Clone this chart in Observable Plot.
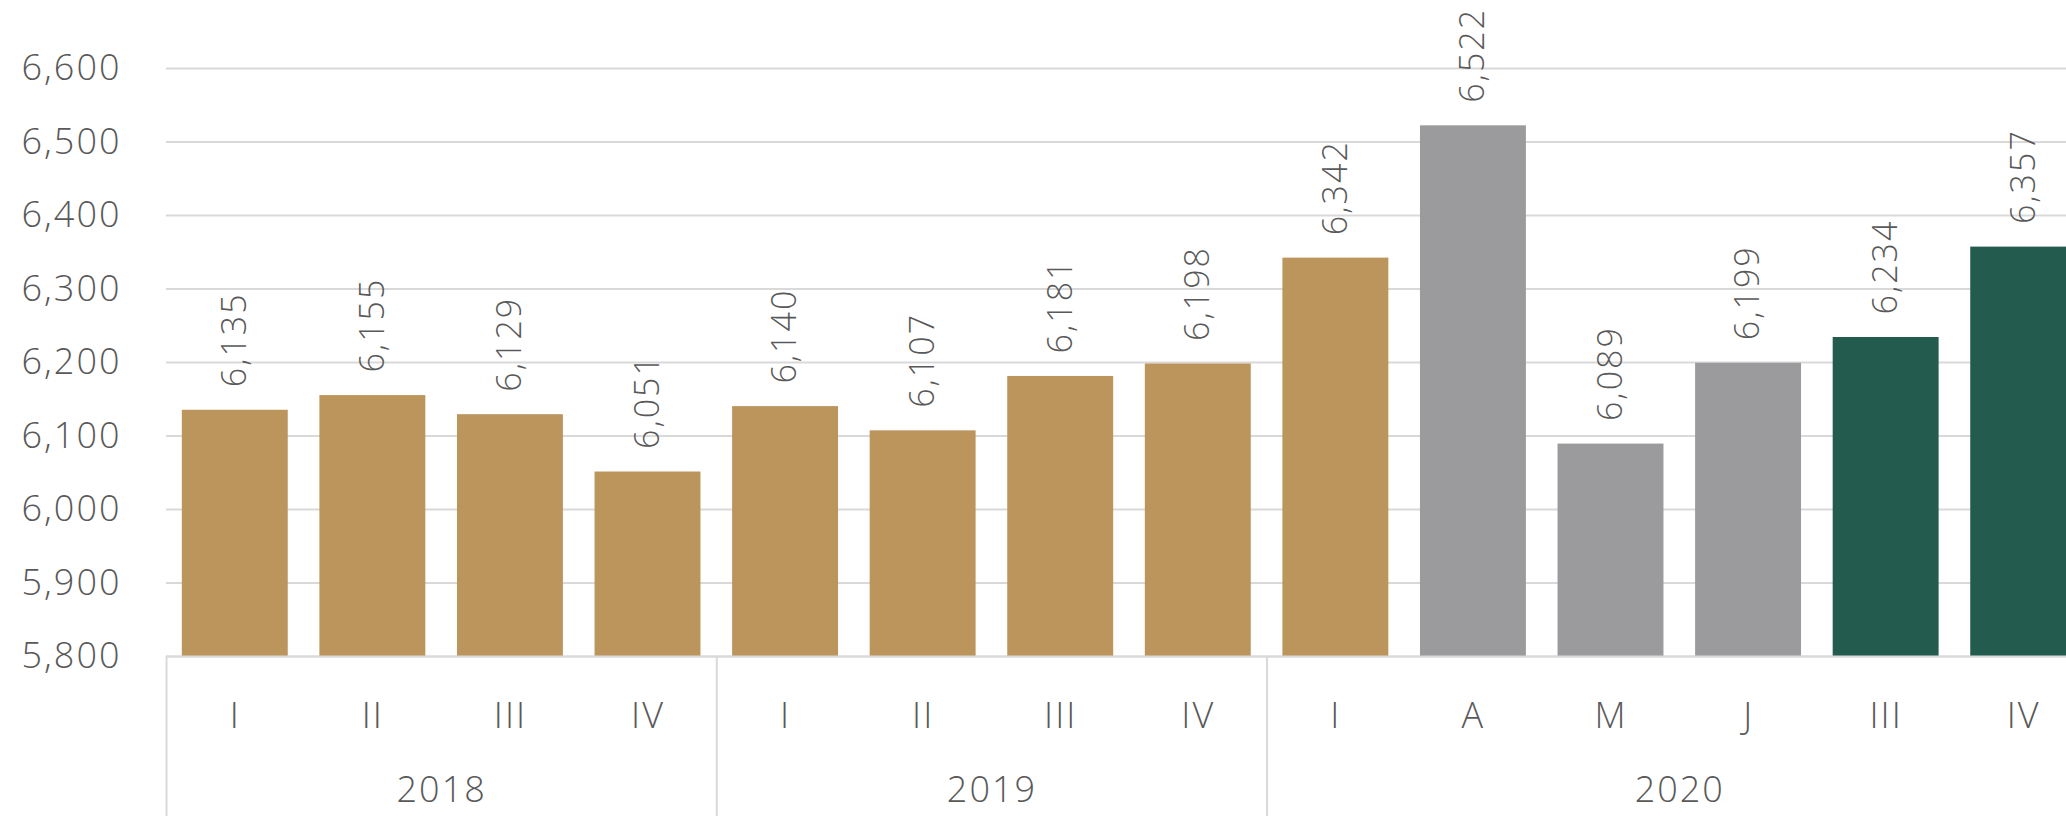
<!DOCTYPE html>
<html>
<head>
<meta charset="utf-8">
<script src="https://cdn.jsdelivr.net/npm/d3@7"></script>
<script src="https://cdn.jsdelivr.net/npm/@observablehq/plot@0.6"></script>
<style>
  html, body { margin: 0; padding: 0; background: #ffffff; overflow: hidden; }
  #chart svg { display: block; }
</style>
</head>
<body>
<div id="chart"></div>
<script>
// ---- data ----
const periods = ["I", "II", "III", "IV", "I", "II", "III", "IV", "I", "A", "M", "J", "III", "IV"];
const years   = ["2018", "2018", "2018", "2018", "2019", "2019", "2019", "2019", "2020", "2020", "2020", "2020", "2020", "2020"];
const values  = [6135, 6155, 6129, 6051, 6140, 6107, 6181, 6198, 6342, 6522, 6089, 6199, 6234, 6357];
const kinds   = ["trimestral", "trimestral", "trimestral", "trimestral", "trimestral", "trimestral", "trimestral", "trimestral",
                 "trimestral", "mensual", "mensual", "mensual", "estimado", "estimado"];
const kindDomain = ["trimestral", "mensual", "estimado"];
const kindColors = ["#BC955C", "#9B9B9D", "#235B4E"];
const yearLabels = ["2018", "2019", "2020"];
const yTicks = [5800, 5900, 6000, 6100, 6200, 6300, 6400, 6500, 6600];
const yFloor = 5800;
const yBelow = 5500;

const data = values.map((v, i) => ({i, value: v, period: periods[i], year: years[i], kind: kinds[i]}));
const groups = yearLabels.map(y => {
  const idx = data.filter(d => d.year === y).map(d => d.i);
  return {year: y, center: d3.mean(idx), start: d3.min(idx) - 0.5};
});
const n = values.length;
const fmt = d3.format(",");
const font = "'Open Sans', 'Noto Sans', sans-serif";

const chart = Plot.plot({
  width: 2066,
  height: 816,
  marginLeft: 166,
  marginRight: -26,
  marginTop: 68,
  marginBottom: 160,
  style: {fontFamily: font, fontSize: "36px", color: "#595959", background: "#ffffff", fontWeight: 300, letterSpacing: "2px"},
  x: {type: "linear", domain: [-0.5, n - 0.5], axis: null},
  y: {domain: [yFloor, 6600], axis: null},
  color: {domain: kindDomain, range: kindColors},
  marks: [
    Plot.ruleY(yTicks, {x1: -0.5, x2: n - 0.5, stroke: "#d9d9d9", strokeWidth: 2}),
    Plot.rect(data, {x1: d => d.i - 0.385, x2: d => d.i + 0.385, y1: yFloor, y2: "value", fill: "kind"}),
    Plot.ruleY([yFloor], {x1: -0.5, x2: n - 0.5, stroke: "#d9d9d9", strokeWidth: 2}),
    Plot.ruleX(groups, {x: "start", y1: yFloor, y2: yBelow, stroke: "#d9d9d9", strokeWidth: 2}),
    Plot.axisY(yTicks, {tickSize: 0, tickPadding: 45, tickFormat: fmt, label: null, fontSize: 36}),
    Plot.axisX(data.map(d => d.i), {tickSize: 0, tickPadding: 46, tickFormat: i => periods[i], label: null, fontSize: 36}),
    Plot.text(data, {x: "i", y: "value", text: d => fmt(d.value), rotate: -90, textAnchor: "start", dy: -23, fontSize: 34, fill: "#595959"}),
    Plot.text(groups, {x: "center", y: yFloor, dy: 134, text: "year", fontSize: 36, fill: "#595959"})
  ]
});
document.getElementById("chart").appendChild(chart);
</script>
</body>
</html>
